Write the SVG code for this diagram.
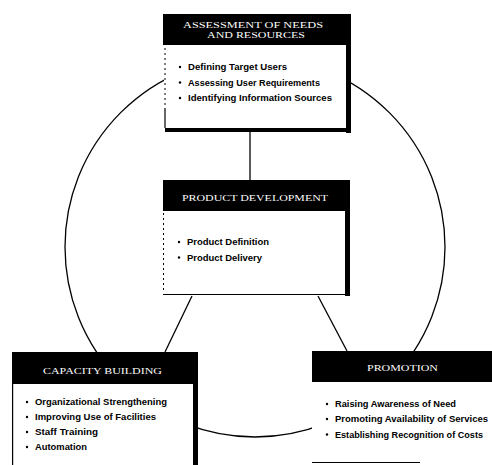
<svg xmlns="http://www.w3.org/2000/svg" width="492" height="465" viewBox="0 0 492 465">
<style>
.hd{fill:#000}
.bd{fill:#fff}
.sh{fill:#000}
.ed{stroke:#000;stroke-width:1.2;fill:none}
.dl{stroke:#000;stroke-width:1;stroke-dasharray:2 3;fill:none}
.cn{stroke:#000;stroke-width:1.3;fill:none}
.t{fill:#fff;font-family:"Liberation Serif",serif;font-size:8px;text-anchor:middle}
.b{fill:#000;font-family:"Liberation Sans",Arial,sans-serif;font-weight:bold;font-size:9px}
.dot{fill:#000}
</style>
<rect width="492" height="465" fill="#fff"/>
<g id="connectors">
<circle class="cn" cx="255" cy="247" r="190"/>
<line class="cn" x1="250" y1="132" x2="250" y2="180"/>
<line class="cn" x1="192" y1="296" x2="165" y2="352"/>
<line class="cn" x1="318" y1="296" x2="347" y2="351"/>
</g>
<g id="assessment">
<rect class="hd" x="163" y="14" width="187" height="31"/>
<rect class="bd" x="164" y="45" width="183" height="84"/>
<line class="dl" x1="165" y1="48" x2="165" y2="108"/>
<line class="ed" x1="165" y1="108" x2="165" y2="128"/>
<rect class="sh" x="346" y="14" width="5" height="119"/>
<rect class="sh" x="165" y="128" width="186" height="4"/>
<text class="t" x="253" y="28" textLength="140" lengthAdjust="spacingAndGlyphs">ASSESSMENT OF NEEDS</text>
<text class="t" x="256" y="38" textLength="98" lengthAdjust="spacingAndGlyphs">AND RESOURCES</text>
<circle class="dot" cx="180" cy="67" r="1.2"/>
<circle class="dot" cx="180" cy="82.5" r="1.2"/>
<circle class="dot" cx="180" cy="98" r="1.2"/>
<text class="b" x="188" y="70" textLength="99" lengthAdjust="spacingAndGlyphs">Defining Target Users</text>
<text class="b" x="188" y="85.5" textLength="132" lengthAdjust="spacingAndGlyphs">Assessing User Requirements</text>
<text class="b" x="188" y="101" textLength="144" lengthAdjust="spacingAndGlyphs">Identifying Information Sources</text>
</g>
<g id="product">
<rect class="hd" x="163" y="180" width="187" height="31"/>
<rect class="bd" x="163" y="211" width="183" height="83"/>
<line class="dl" x1="163.5" y1="213" x2="163.5" y2="292"/>
<rect class="sh" x="345" y="180" width="5" height="116"/>
<line class="ed" x1="163" y1="294.5" x2="350" y2="294.5"/>
<text class="t" x="255" y="201" textLength="146" lengthAdjust="spacingAndGlyphs">PRODUCT DEVELOPMENT</text>
<circle class="dot" cx="179" cy="242" r="1.2"/>
<circle class="dot" cx="179" cy="257.5" r="1.2"/>
<text class="b" x="187" y="245" textLength="82" lengthAdjust="spacingAndGlyphs">Product Definition</text>
<text class="b" x="187" y="260.5" textLength="75" lengthAdjust="spacingAndGlyphs">Product Delivery</text>
</g>
<g id="capacity">
<rect class="hd" x="12" y="352" width="184" height="32"/>
<rect class="bd" x="12" y="384" width="182" height="81"/>
<line class="ed" x1="12.6" y1="352" x2="12.6" y2="465"/>
<rect class="sh" x="193" y="352" width="5" height="113"/>
<text class="t" x="102.5" y="374" textLength="119" lengthAdjust="spacingAndGlyphs">CAPACITY BUILDING</text>
<circle class="dot" cx="27" cy="402" r="1.2"/>
<circle class="dot" cx="27" cy="417" r="1.2"/>
<circle class="dot" cx="27" cy="432" r="1.2"/>
<circle class="dot" cx="27" cy="447" r="1.2"/>
<text class="b" x="35" y="405" textLength="132" lengthAdjust="spacingAndGlyphs">Organizational Strengthening</text>
<text class="b" x="35" y="420" textLength="121" lengthAdjust="spacingAndGlyphs">Improving Use of Facilities</text>
<text class="b" x="35" y="435" textLength="63" lengthAdjust="spacingAndGlyphs">Staff Training</text>
<text class="b" x="35" y="450" textLength="52" lengthAdjust="spacingAndGlyphs">Automation</text>
</g>
<g id="promotion">
<rect class="hd" x="312" y="351" width="180" height="31"/>
<rect class="bd" x="312" y="382" width="180" height="80"/>
<line class="ed" x1="312" y1="462.5" x2="420" y2="462.5"/>
<text class="t" x="402.5" y="371" textLength="71" lengthAdjust="spacingAndGlyphs">PROMOTION</text>
<circle class="dot" cx="327" cy="404" r="1.2"/>
<circle class="dot" cx="327" cy="419" r="1.2"/>
<circle class="dot" cx="327" cy="434.5" r="1.2"/>
<text class="b" x="335" y="407" textLength="121" lengthAdjust="spacingAndGlyphs">Raising Awareness of Need</text>
<text class="b" x="335" y="422" textLength="153" lengthAdjust="spacingAndGlyphs">Promoting Availability of Services</text>
<text class="b" x="335" y="437.5" textLength="148" lengthAdjust="spacingAndGlyphs">Establishing Recognition of Costs</text>
</g>
</svg>
